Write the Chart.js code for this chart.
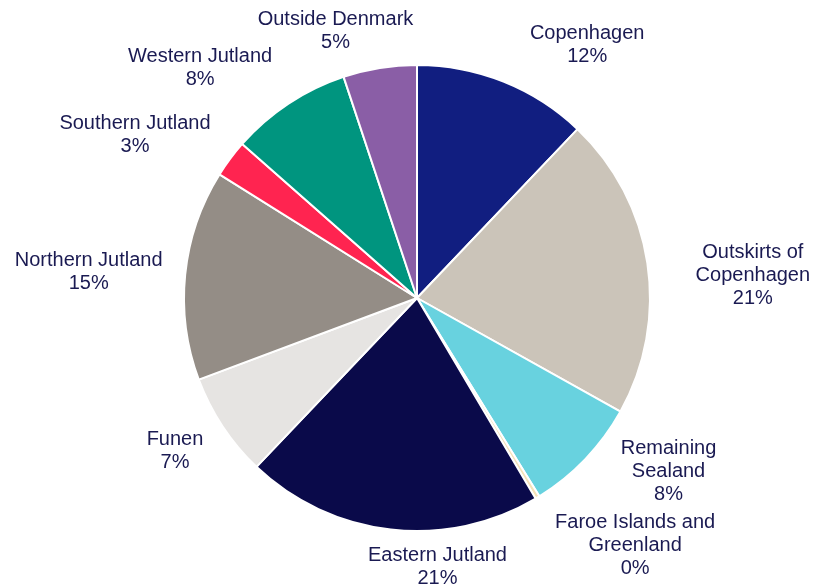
<!DOCTYPE html>
<html>
<head>
<meta charset="utf-8">
<script src="https://cdn.jsdelivr.net/npm/chart.js@4.4.1/dist/chart.umd.min.js"></script>
<style>
  html, body { margin: 0; padding: 0; background: #fff; }
  #wrap { width: 816px; height: 587px; }
</style>
</head>
<body>
<div id="wrap"><canvas id="pie"></canvas></div>
<script>
// Regions (wrapped as in the original labels)
const regions = [
    ['Copenhagen'],
    ['Outskirts of', 'Copenhagen'],
    ['Remaining', 'Sealand'],
    ['Faroe Islands and', 'Greenland'],
    ['Eastern Jutland'],
    ['Funen'],
    ['Northern Jutland'],
    ['Southern Jutland'],
    ['Western Jutland'],
    ['Outside Denmark']
];
// Share of total, percent
const shares = [12.1, 21.0, 8.1, 0.3, 20.6, 7.2, 14.6, 2.6, 8.4, 5.1];
const shareLabels = ['12%', '21%', '8%', '0%', '21%', '7%', '15%', '3%', '8%', '5%'];

const sliceColors = ['#111e80', '#cbc4b9', '#68d2df', '#f5e2b8', '#0a0a4a',
                     '#e6e4e2', '#948d86', '#ff2450', '#00957f', '#8a5ea6'];

// small hand adjustments of label blocks (excel "best fit" spreads them)
const labelNudge = [[58, -4], [37, 19], [40, -20], [50, 8], [56, 3],
                    [-14, 5], [-11, 1], [-25, -3], [-42, -6], [-30, -2]];

const outsideLabels = {
    id: 'outsideLabels',
    afterDatasetsDraw(chart) {
        const ctx = chart.ctx;
        const meta = chart.getDatasetMeta(0);
        const lineH = 23;
        ctx.save();
        ctx.font = '20px "Liberation Sans", Arial, sans-serif';
        ctx.fillStyle = '#1a1a52';
        ctx.textAlign = 'center';
        ctx.textBaseline = 'middle';
        meta.data.forEach((arc, i) => {
            const p = arc.getProps(['x', 'y', 'startAngle', 'endAngle', 'outerRadius'], true);
            const mid = (p.startAngle + p.endAngle) / 2;
            const lines = regions[i].concat([shareLabels[i]]);
            const w = Math.max(...lines.map(l => ctx.measureText(l).width));
            const h = lines.length * lineH;
            const ux = Math.cos(mid), uy = Math.sin(mid);
            const r = p.outerRadius + 12;
            const cx = p.x + r * ux + ux * w / 2 + labelNudge[i][0];
            const cy = p.y + r * uy + uy * h / 2 + labelNudge[i][1];
            lines.forEach((l, k) => {
                ctx.fillText(l, cx, cy - h / 2 + lineH * (k + 0.5));
            });
        });
        ctx.restore();
    }
};

new Chart(document.getElementById('pie'), {
    type: 'pie',
    data: {
        labels: regions,
        datasets: [{
            data: shares,
            backgroundColor: sliceColors,
            borderColor: '#fff',
            borderWidth: 2
        }]
    },
    options: {
        responsive: true,
        maintainAspectRatio: false,
        animation: false,
        layout: { padding: { top: 64, bottom: 55, left: 150, right: 132 } },
        plugins: {
            legend: { display: false },
            tooltip: { enabled: false }
        }
    },
    plugins: [outsideLabels]
});
</script>
</body>
</html>
